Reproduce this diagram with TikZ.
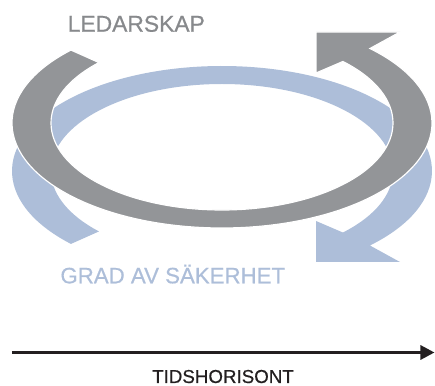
\documentclass[tikz,border=0pt]{standalone}
\usepackage{fontspec}
\setmainfont{Liberation Sans}[FakeBold=0.6]
\usetikzlibrary{arrows.meta,calc}

\definecolor{ringgray}{RGB}{147,149,152}
\definecolor{ringblue}{RGB}{173,190,217}
\definecolor{axisblack}{RGB}{35,31,32}

\begin{document}
\begin{tikzpicture}[x=0.03cm,y=0.03cm,
  band/.style={line width=1pt,draw=white,line join=miter},
  tag/.style={anchor=base,inner sep=0pt,font=\fontsize{19.5}{22}\selectfont},
  axis/.style={line width=2.6pt,axisblack,-{Triangle[length=12pt,width=12pt]}}]
\useasboundingbox (0,0) rectangle (435,386);
\coordinate (gc) at (222,263); % centre, grey ring
\coordinate (bc) at (222,215); % centre, blue ring
% ---------------- blue ring (behind)
\fill[ringblue] ($(bc)+(224:210 and 105)$)
  arc[start angle=224,end angle=-45.2,x radius=210,y radius=105]
  -- (400,124) -- (316,124) -- (316,165)
  -- ($(bc)+(-45:171 and 87)$)
  arc[start angle=-45,end angle=224,x radius=171,y radius=87] -- cycle;
% ---------------- grey ring (front)
\filldraw[band,fill=ringgray] ($(gc)+(136:210 and 105)$)
  arc[start angle=136,end angle=405.2,x radius=210,y radius=105]
  -- (400,354) -- (316,354) -- (316,313)
  -- ($(gc)+(45:171 and 87)$)
  arc[start angle=405,end angle=136,x radius=171,y radius=87] -- cycle;
% ---------------- labels
\node[tag,text=ringgray!92!black] (lead) at (136.3,354.3) {LEDARSKAP};
\node[tag,text=ringblue,font=\fontsize{19}{22}\selectfont] (grad) at (172.8,102.7) {GRAD AV SÄKERHET};
% ---------------- time axis
\coordinate (tstart) at (12,33.5);
\coordinate (tend) at (434.5,33.5);
\draw[axis] (tstart) -- (tend);
\node[anchor=base,inner sep=0pt,text=axisblack,font=\fontsize{16}{18}\selectfont] (tids) at (223,3) {TIDSHORISONT};
\end{tikzpicture}
\end{document}
